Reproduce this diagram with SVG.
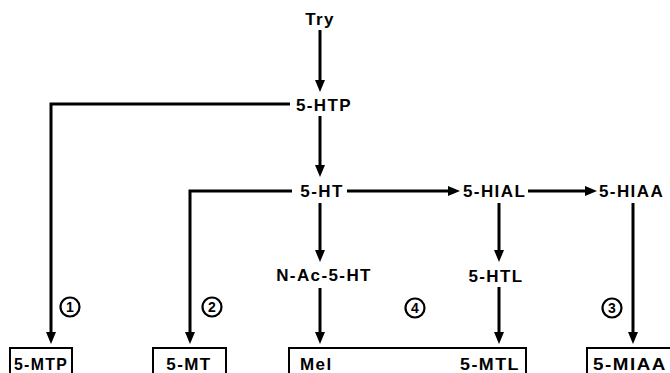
<svg xmlns="http://www.w3.org/2000/svg" width="670" height="373" viewBox="0 0 670 373">
<style>
.t{font-family:"Liberation Sans",Arial,sans-serif;font-weight:bold;font-size:17px;letter-spacing:1.4px;fill:#000}
.c{stroke:#000;stroke-width:3;fill:none}
.box{stroke:#000;stroke-width:2;fill:none}
.n{stroke:#000;stroke-width:2.2;fill:#fff}
.d{font-family:"Liberation Sans",Arial,sans-serif;font-weight:bold;font-size:14px;fill:#000}
</style>
<defs>
<marker id="ah" markerUnits="userSpaceOnUse" viewBox="0 0 12 10" markerWidth="12" markerHeight="10" refX="0" refY="5" orient="auto">
<path d="M0,0 L12,5 L0,10 z" fill="#000"/>
</marker>
</defs>
<rect width="670" height="373" fill="#fff"/>
<g id="connectors" class="c">
<line x1="320" y1="30" x2="320" y2="80" marker-end="url(#ah)"/>
<polyline points="290,104 51,104 51,332" marker-end="url(#ah)"/>
<line x1="320" y1="116" x2="320" y2="165" marker-end="url(#ah)"/>
<polyline points="292,191 190,191 190,332" marker-end="url(#ah)"/>
<line x1="347" y1="191" x2="448" y2="191" marker-end="url(#ah)"/>
<line x1="528" y1="191" x2="585" y2="191" marker-end="url(#ah)"/>
<line x1="320" y1="203" x2="320" y2="250" marker-end="url(#ah)"/>
<line x1="320" y1="288" x2="320" y2="332" marker-end="url(#ah)"/>
<line x1="499" y1="203" x2="499" y2="250" marker-end="url(#ah)"/>
<line x1="499" y1="287" x2="499" y2="332" marker-end="url(#ah)"/>
<line x1="633" y1="203" x2="633" y2="332" marker-end="url(#ah)"/>
</g>
<g id="Try"><text class="t" x="320" y="25" text-anchor="middle">Try</text></g>
<g id="5-HTP"><text class="t" x="324" y="111" text-anchor="middle">5-HTP</text></g>
<g id="5-HT"><text class="t" x="322" y="197" text-anchor="middle">5-HT</text></g>
<g id="5-HIAL"><text class="t" x="463" y="197">5-HIAL</text></g>
<g id="5-HIAA"><text class="t" x="599" y="197">5-HIAA</text></g>
<g id="N-Ac-5-HT"><text class="t" x="324" y="281" text-anchor="middle">N-Ac-5-HT</text></g>
<g id="5-HTL"><text class="t" x="496" y="282" text-anchor="middle">5-HTL</text></g>
<g id="circle1"><circle class="n" cx="70" cy="307" r="9.5"/><text class="d" x="70" y="312" text-anchor="middle">1</text></g>
<g id="circle2"><circle class="n" cx="212" cy="307" r="9.5"/><text class="d" x="212" y="312" text-anchor="middle">2</text></g>
<g id="circle4"><circle class="n" cx="415" cy="308" r="9.5"/><text class="d" x="415" y="313" text-anchor="middle">4</text></g>
<g id="circle3"><circle class="n" cx="612" cy="308" r="9.5"/><text class="d" x="612" y="313" text-anchor="middle">3</text></g>
<g id="5-MTP"><path class="box" d="M10,375 V348 H72 V375"/><text class="t" x="14" y="370" textLength="54" lengthAdjust="spacingAndGlyphs">5-MTP</text></g>
<g id="5-MT"><path class="box" d="M153,375 V348 H226 V375"/><text class="t" x="189" y="370" text-anchor="middle">5-MT</text></g>
<g id="Mel-5-MTL"><path class="box" d="M289,375 V348 H526 V375"/><text class="t" x="300" y="370">Mel</text><text class="t" x="460" y="370" textLength="60" lengthAdjust="spacingAndGlyphs">5-MTL</text></g>
<g id="5-MIAA"><path class="box" d="M587,375 V348 H672"/><text class="t" x="593" y="370" textLength="74" lengthAdjust="spacingAndGlyphs">5-MIAA</text></g>
</svg>
